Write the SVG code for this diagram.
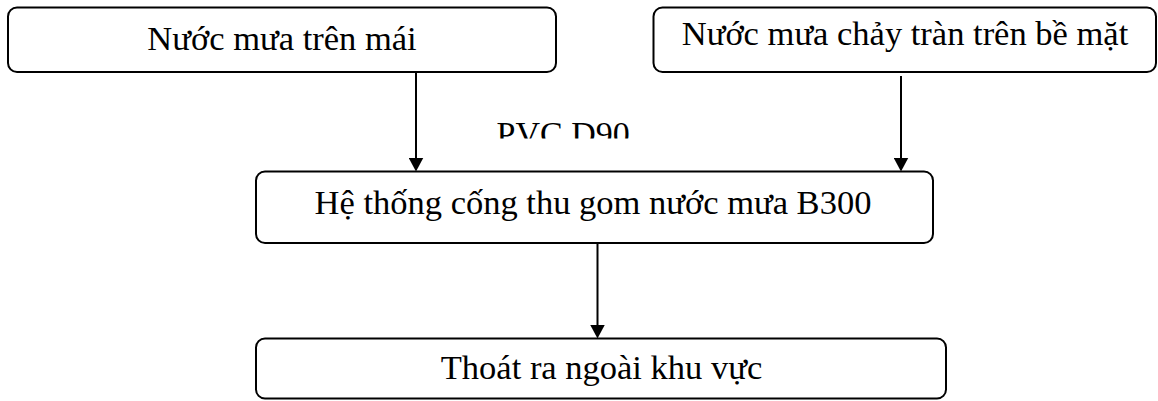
<svg xmlns="http://www.w3.org/2000/svg" width="1158" height="401" viewBox="0 0 1158 401">
  <style>
    .box { fill: #ffffff; stroke: #000000; stroke-width: 2; }
    .lbl { font-family: "Liberation Serif", "Times New Roman", "DejaVu Serif", serif; font-size: 34.5px; fill: #000000; text-anchor: middle; }
    .pvc { font-family: "Liberation Serif", "Times New Roman", "DejaVu Serif", serif; font-size: 34px; fill: #000000; }
    .conn { stroke: #000000; stroke-width: 2; fill: none; marker-end: url(#arrow); }
  </style>
  <defs>
    <marker id="arrow" markerUnits="userSpaceOnUse" markerWidth="14" markerHeight="15" viewBox="0 0 14 15" refX="1" refY="7.5" orient="auto">
      <path d="M0,0 L14,7.5 L0,15 z" fill="#000000"/>
    </marker>
    <clipPath id="pvcClip">
      <rect x="480" y="100" width="170" height="38.5"/>
    </clipPath>
  </defs>
  <rect x="0" y="0" width="1158" height="401" fill="#ffffff"/>

  <g id="connectors">
    <line class="conn" x1="416" y1="72" x2="416" y2="158.5"/>
    <line class="conn" x1="901" y1="76" x2="901" y2="158.5"/>
    <line class="conn" x1="597.5" y1="243" x2="597.5" y2="325.5"/>
  </g>

  <g id="node-roof">
    <rect class="box" x="8" y="7.5" width="548" height="64.5" rx="9"/>
    <text class="lbl" x="282" y="50">Nước mưa trên mái</text>
  </g>

  <g id="node-surface">
    <rect class="box" x="653.5" y="7.5" width="502.5" height="64.5" rx="9"/>
    <text class="lbl" x="905" y="45">Nước mưa chảy tràn trên bề mặt</text>
  </g>

  <g id="label-pvc">
    <text class="pvc" x="496.5" y="144.5" clip-path="url(#pvcClip)">PVC D90</text>
  </g>

  <g id="node-drain">
    <rect class="box" x="256" y="171.5" width="677" height="71.5" rx="9"/>
    <text class="lbl" x="593" y="214">Hệ thống cống thu gom nước mưa B300</text>
  </g>

  <g id="node-outlet">
    <rect class="box" x="256" y="338.5" width="690" height="60" rx="9"/>
    <text class="lbl" x="601.5" y="379">Thoát ra ngoài khu vực</text>
  </g>
</svg>
